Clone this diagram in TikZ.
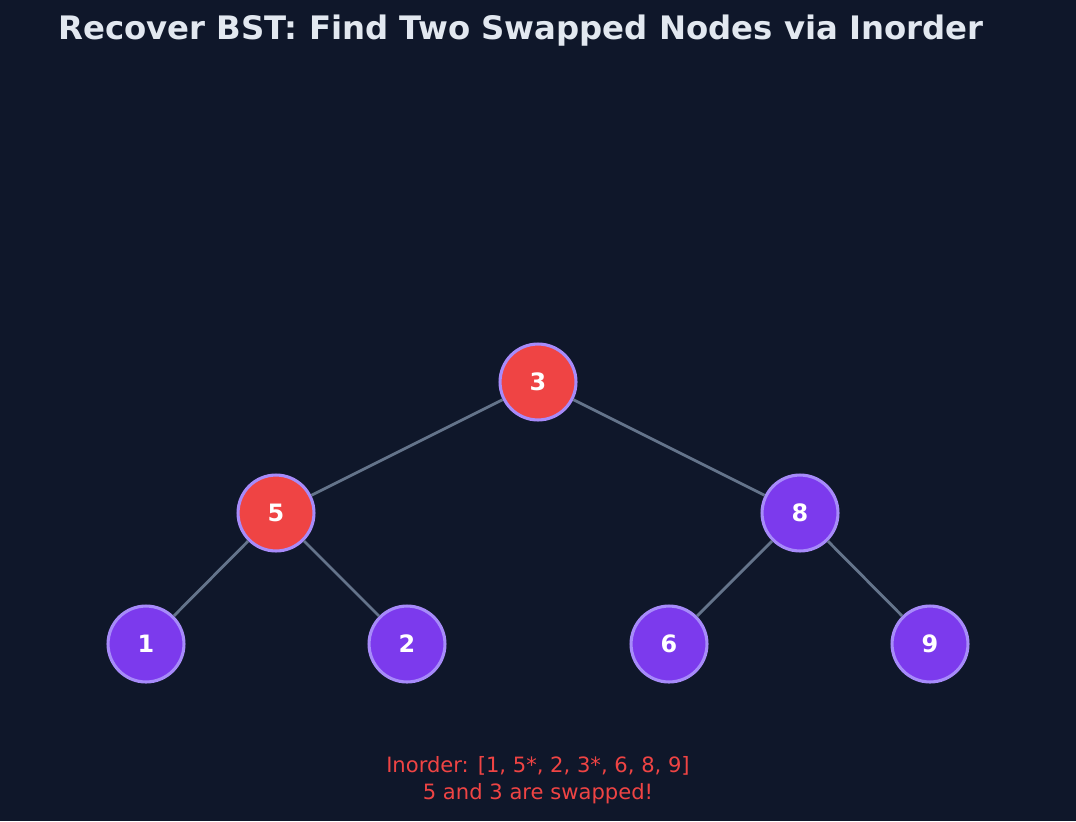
\documentclass[tikz,border=0pt]{standalone}
\usepackage{fontspec}
\setmainfont{DejaVu Sans}
\definecolor{bgcol}{HTML}{0F172A}
\definecolor{edgecol}{HTML}{64748B}
\definecolor{nodecol}{HTML}{7C3AED}
\definecolor{swapcol}{HTML}{EF4444}
\definecolor{ringcol}{HTML}{A78BFA}
\definecolor{titlecol}{HTML}{E2E8F0}
\tikzset{
  treenode/.style={circle, draw=ringcol, line width=2.2pt, fill=nodecol,
    minimum size=54pt, inner sep=0pt, text=white, font=\bfseries\fontsize{17}{20}\selectfont},
  swapped/.style={treenode, fill=swapcol},
  treeedge/.style={draw=edgecol, line width=2pt}
}
\begin{document}
\begin{tikzpicture}[x=0.025cm, y=-0.025cm]
    % background
    \fill[bgcol] (0,0) rectangle (1076,821);
    \useasboundingbox (0,0) rectangle (1076,821);
    \node[text=titlecol, font=\bfseries\fontsize{23}{28}\selectfont] (title) at (521,31) {Recover BST: Find Two Swapped Nodes via Inorder};

    % tree
    \node[swapped] (n3) at (538,382) {3};
    \node[swapped] (n5) at (276,513) {5};
    \node[treenode] (n8) at (800,513) {8};
    \node[treenode] (n1) at (146,644) {1};
    \node[treenode] (n2) at (407,644) {2};
    \node[treenode] (n6) at (669,644) {6};
    \node[treenode] (n9) at (930,644) {9};
    \foreach \a/\b in {n3/n5, n3/n8, n5/n1, n5/n2, n8/n6, n8/n9} {
        \draw[treeedge] (\a) -- (\b);
    }

    % inorder note
    \node[text=swapcol, align=center, font=\fontsize{15}{19}\selectfont] (note) at (538,780)
        {Inorder: [1, 5*, 2, 3*, 6, 8, 9]\\5 and 3 are swapped!};
\end{tikzpicture}
\end{document}
